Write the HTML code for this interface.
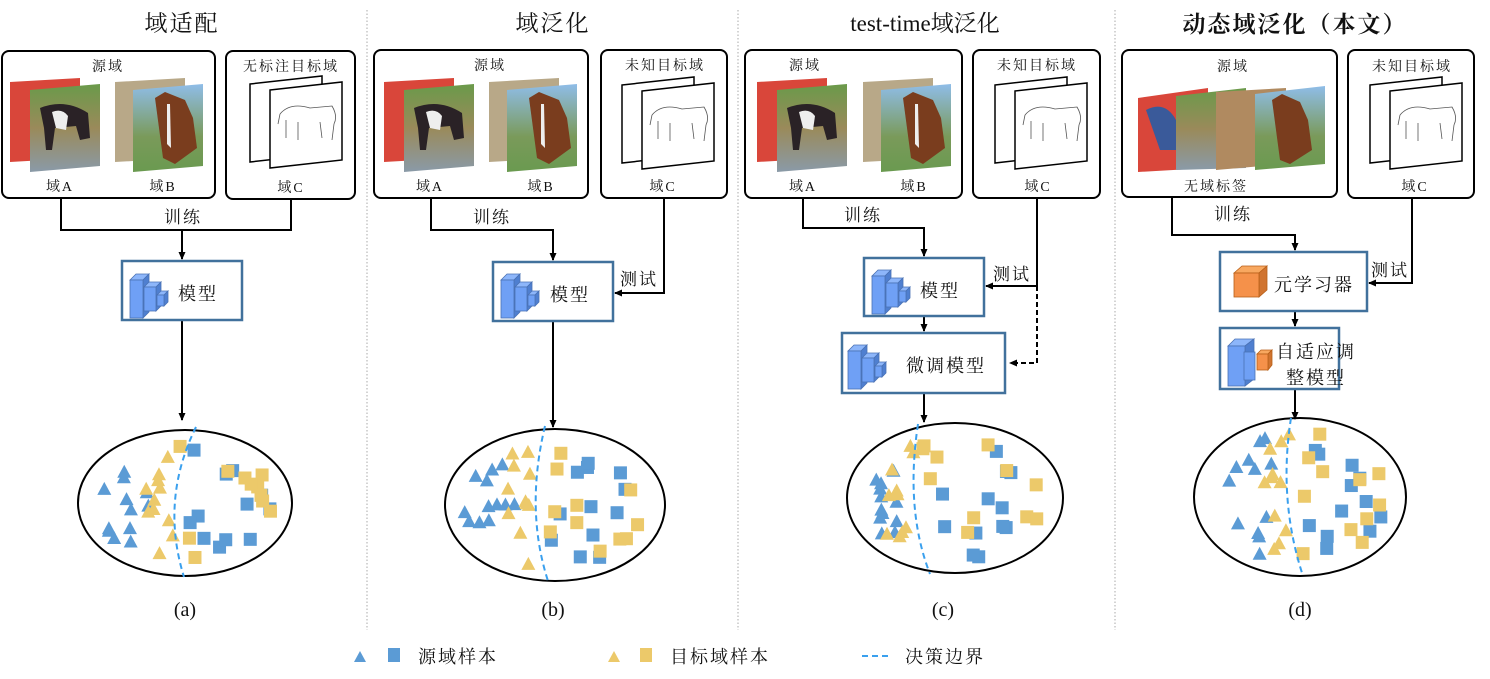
<!DOCTYPE html>
<html><head><meta charset="utf-8"><style>
html,body{margin:0;padding:0;background:#fff}
svg{display:block}
text{font-family:"Liberation Serif","Noto Serif CJK SC",serif;fill:#111}
.ls{letter-spacing:2px}
</style></head><body>
<svg id="s" width="1490" height="679" viewBox="0 0 1490 679" xmlns="http://www.w3.org/2000/svg">
<defs>
<marker id="ar" markerWidth="8" markerHeight="8" refX="7" refY="4" orient="auto" markerUnits="userSpaceOnUse"><path d="M0,0.5 L8,4 L0,7.5 Z" fill="#000"/></marker>
<linearGradient id="gA" x1="0" y1="0" x2="0" y2="1"><stop offset="0" stop-color="#6a9a4a"/><stop offset="0.5" stop-color="#9a8a5a"/><stop offset="1" stop-color="#8a9aa8"/></linearGradient>
<linearGradient id="gB" x1="0" y1="0" x2="0" y2="1"><stop offset="0" stop-color="#8fbde8"/><stop offset="0.6" stop-color="#7a9a5a"/><stop offset="1" stop-color="#6a9a50"/></linearGradient>
<g id="photoA">
<path d="M0,4 L70,0 L70,80 L0,84 Z" fill="#d9463a"/>
<path d="M20,12 L90,6 L90,88 L20,94 Z" fill="url(#gA)"/>
<path d="M30,30 Q55,20 78,35 L80,60 L70,62 L66,48 L45,50 L42,72 L36,72 L34,50 Z" fill="#2a2226"/>
<path d="M42,34 Q52,30 58,38 L56,52 L46,50 Z" fill="#eee"/>
</g>
<g id="photoB">
<path d="M0,4 L70,0 L70,80 L0,84 Z" fill="#b8a888"/>
<path d="M18,12 L88,6 L88,88 L18,94 Z" fill="url(#gB)"/>
<path d="M40,20 L50,14 L70,22 L78,40 L82,70 L60,86 L48,80 L44,50 Z" fill="#7a3d1e"/>
<path d="M52,26 L55,26 L56,70 L52,66 Z" fill="#eee"/>
</g>
<g id="sketch">
<path d="M0,8 L72,0 L72,78 L0,86 Z" fill="#fff" stroke="#000" stroke-width="1.5"/>
<path d="M20,14 L92,6 L92,84 L20,92 Z" fill="#fff" stroke="#000" stroke-width="1.5"/>
<path d="M30,38 Q40,26 60,32 L82,30 Q88,40 84,48 L82,64 M36,44 L36,62 M48,46 L48,64 M70,46 L72,62 M30,38 L28,48" fill="none" stroke="#555" stroke-width="0.8"/>
</g>
<g id="cubes" stroke="#4a72b5" stroke-width="0.8">
<path d="M0,12 L6,6 L19,6 L13,12 Z" fill="#8db6fa"/><path d="M13,12 L19,6 L19,44 L13,50 Z" fill="#4f7fd0"/><rect x="0" y="12" width="13" height="38" fill="#6fa0f5"/>
<path d="M14,19 L19,14 L31,14 L26,19 Z" fill="#8db6fa"/><path d="M26,19 L31,14 L31,38 L26,43 Z" fill="#4f7fd0"/><rect x="14" y="19" width="12" height="24" fill="#6fa0f5"/>
<path d="M27,27 L31,23 L38,23 L34,27 Z" fill="#8db6fa"/><path d="M34,27 L38,23 L38,34 L34,38 Z" fill="#4f7fd0"/><rect x="27" y="27" width="7" height="11" fill="#6fa0f5"/>
</g>
</defs>

<g stroke="#aaa" stroke-width="1" stroke-dasharray="1.5,2">
<line x1="367" y1="10" x2="367" y2="630"/><line x1="738" y1="10" x2="738" y2="630"/><line x1="1115" y1="10" x2="1115" y2="630"/>
</g>

<g fill="none" stroke="#000" stroke-width="2">
<rect x="2" y="51" width="213" height="147" rx="7"/>
<rect x="226" y="51" width="129" height="148" rx="7"/>
<rect x="374" y="50" width="214" height="148" rx="7"/>
<rect x="601" y="50" width="126" height="148" rx="7"/>
<rect x="745" y="50" width="217" height="148" rx="7"/>
<rect x="973" y="50" width="127" height="148" rx="7"/>
<rect x="1122" y="50" width="215" height="147" rx="7"/>
<rect x="1348" y="50" width="126" height="148" rx="7"/>
</g>

<use href="#photoA" x="10" y="78"/><use href="#photoB" x="115" y="78"/><use href="#sketch" x="250" y="76"/>
<use href="#photoA" x="384" y="78"/><use href="#photoB" x="489" y="78"/><use href="#sketch" x="622" y="77"/>
<use href="#photoA" x="757" y="78"/><use href="#photoB" x="863" y="78"/><use href="#sketch" x="995" y="77"/>
<g>
<path d="M1138,98 L1208,88 L1208,168 L1138,172 Z" fill="#d9463a"/>
<path d="M1176,96 L1246,88 L1246,168 L1176,170 Z" fill="url(#gA)"/>
<path d="M1216,92 L1286,88 L1286,164 L1216,170 Z" fill="#b08a60"/>
<path d="M1255,94 L1325,86 L1325,164 L1255,170 Z" fill="url(#gB)"/>
<path d="M1272,100 L1282,94 L1300,102 L1308,120 L1312,150 L1290,164 L1280,160 L1276,130 Z" fill="#7a3d1e"/>
<path d="M1146,110 Q1165,100 1176,120 L1176,150 L1160,150 Z" fill="#3a5a9a"/>
</g>
<use href="#sketch" x="1370" y="77"/>

<text x="182" y="31" font-size="23" text-anchor="middle" class="ls">域适配</text>
<text x="553" y="31" font-size="23" text-anchor="middle" class="ls">域泛化</text>
<text x="925" y="31" font-size="23" text-anchor="middle">test-time域泛化</text>
<text x="1295" y="32" font-size="23" text-anchor="middle" font-weight="bold" class="ls">动态域泛化（本文）</text>

<g font-size="14" text-anchor="middle" class="ls">
<text x="108" y="71">源域</text><text x="291" y="71">无标注目标域</text>
<text x="60" y="191">域A</text><text x="163" y="191">域B</text><text x="291" y="192">域C</text>
<text x="490" y="70">源域</text><text x="665" y="70">未知目标域</text>
<text x="430" y="191">域A</text><text x="541" y="191">域B</text><text x="663" y="191">域C</text>
<text x="805" y="70">源域</text><text x="1037" y="70">未知目标域</text>
<text x="803" y="191">域A</text><text x="914" y="191">域B</text><text x="1038" y="191">域C</text>
<text x="1233" y="71">源域</text><text x="1412" y="71">未知目标域</text>
<text x="1216" y="191">无域标签</text><text x="1415" y="191">域C</text>
</g>

<g fill="none" stroke="#000" stroke-width="2">
<path d="M61,198 V230 H291 V199"/><path d="M182,230 V259" marker-end="url(#ar)"/>
<path d="M182,320 V420" marker-end="url(#ar)"/>
<path d="M431,198 V230 H553 V260" marker-end="url(#ar)"/>
<path d="M664,198 V293 H615" marker-end="url(#ar)"/>
<path d="M553,321 V427" marker-end="url(#ar)"/>
<path d="M803,198 V228 H924 V256" marker-end="url(#ar)"/>
<path d="M1037,198 V286 H986" marker-end="url(#ar)"/>
<path d="M1037,286 V363 H1010" stroke-dasharray="5,3" marker-end="url(#ar)"/>
<path d="M924,316 V331" marker-end="url(#ar)"/>
<path d="M924,393 V422" marker-end="url(#ar)"/>
<path d="M1172,197 V235 H1295 V250" marker-end="url(#ar)"/>
<path d="M1412,198 V283 H1369" marker-end="url(#ar)"/>
<path d="M1295,311 V326" marker-end="url(#ar)"/>
<path d="M1295,389 V419" marker-end="url(#ar)"/>
</g>
<g font-size="17" text-anchor="middle" class="ls">
<text x="183" y="223">训练</text><text x="492" y="223">训练</text><text x="639" y="285">测试</text>
<text x="863" y="221">训练</text><text x="1012" y="280">测试</text>
<text x="1233" y="220">训练</text><text x="1390" y="276">测试</text>
</g>

<g fill="#fff" stroke="#41719c" stroke-width="2.5">
<rect x="122" y="261" width="120" height="59"/>
<rect x="493" y="262" width="120" height="59"/>
<rect x="864" y="258" width="120" height="58"/>
<rect x="842" y="333" width="163" height="60"/>
<rect x="1220" y="252" width="147" height="59"/>
<rect x="1220" y="328" width="119" height="61"/>
</g>
<use href="#cubes" x="130" y="268"/><use href="#cubes" x="501" y="268"/><use href="#cubes" x="872" y="264"/><use href="#cubes" x="848" y="339"/>
<g stroke="#b85f18" stroke-width="0.8">
<path d="M1234,273 L1242,266 L1267,266 L1259,273 Z" fill="#f8a860"/><path d="M1259,273 L1267,266 L1267,290 L1259,297 Z" fill="#d07430"/><rect x="1234" y="273" width="25" height="24" fill="#f5914a"/>
</g>
<g stroke="#4a72b5" stroke-width="0.8">
<path d="M1228,346 L1235,339 L1254,339 L1245,346 Z" fill="#8db6fa"/><path d="M1245,346 L1254,339 L1254,379 L1245,386 Z" fill="#4f7fd0"/><rect x="1228" y="346" width="17" height="40" fill="#6fa0f5"/>
<rect x="1244" y="352" width="11" height="28" fill="#6fa0f5"/>
</g>
<g stroke="#b85f18" stroke-width="0.8"><path d="M1257,354 L1261,350 L1272,350 L1268,354 Z" fill="#f8a860"/><path d="M1268,354 L1272,350 L1272,365 L1268,370 Z" fill="#d07430"/><rect x="1257" y="354" width="11" height="16" fill="#f5914a"/></g>
<g font-size="18" class="ls">
<text x="178" y="300">模型</text><text x="550" y="301">模型</text><text x="920" y="297">模型</text>
<text x="906" y="372">微调模型</text><text x="1274" y="291">元学习器</text>
<text x="1276" y="358">自适应调</text><text x="1286" y="384">整模型</text>
</g>

<g fill="none" stroke="#000" stroke-width="2">
<ellipse cx="185" cy="503" rx="107" ry="73"/>
<ellipse cx="555" cy="505" rx="110" ry="76"/>
<ellipse cx="955" cy="498" rx="108" ry="75"/>
<ellipse cx="1300" cy="497" rx="106" ry="79"/>
</g>
<g id="pts"></g>
<g fill="none" stroke="#3aa0ee" stroke-width="2" stroke-dasharray="6,4">
<path d="M196,427 Q160,500 184,577"/>
<path d="M545,426 Q525,510 548,581"/>
<path d="M918,424 Q905,510 930,574"/>
<path d="M1291,418 Q1278,500 1303,576"/>
<line x1="862" y1="656" x2="892" y2="656"/>
</g>

<g font-size="20" text-anchor="middle" font-family="Liberation Serif,serif">
<text x="185" y="616">(a)</text><text x="553" y="616">(b)</text><text x="943" y="616">(c)</text><text x="1300" y="616">(d)</text>
</g>
<path d="M354,662 L360,651 L366,662 Z" fill="#5b9bd5"/><rect x="388" y="648" width="12" height="14" fill="#5b9bd5"/>
<path d="M608,662 L614,651 L620,662 Z" fill="#ecc96a"/><rect x="640" y="648" width="12" height="14" fill="#ecc96a"/>
<g font-size="18" class="ls"><text x="418" y="663">源域样本</text><text x="670" y="663">目标域样本</text><text x="905" y="663">决策边界</text></g>
</svg>
<script>
(function(){
var g=document.getElementById('pts'),h='';
var seed=11;function r(){seed=(seed*16807)%2147483647;return seed/2147483647;}
var P=[[185,503,107,73,-10],[555,505,110,76,-20],[955,498,108,75,-38],[1300,497,106,79,-8]];
function tri(x,y,c){h+='<path d="M'+(x-7)+','+(y+6)+' L'+x+','+(y-7)+' L'+(x+7)+','+(y+6)+' Z" fill="'+c+'"/>';}
function sq(x,y,c){h+='<rect x="'+(x-6.5)+'" y="'+(y-6.5)+'" width="13" height="13" fill="'+c+'"/>';}
var B='#5b9bd5',Y='#ecc96a';
P.forEach(function(p){
 var cx=p[0],cy=p[1],rx=p[2]-18,ry=p[3]-14,bx=cx+p[4];
 function pt(minx,maxx){for(var i=0;i<80;i++){var x=minx+r()*(maxx-minx),y=cy-ry+r()*2*ry;var dx=(x-cx)/rx,dy=(y-cy)/ry;if(dx*dx+dy*dy<1)return [x,y];}return [minx,cy];}
 var i,q;
 for(i=0;i<12;i++){q=pt(cx-rx,bx-20);tri(q[0],q[1],B);}
 for(i=0;i<12;i++){q=pt(bx+15,cx+rx);sq(q[0],q[1],B);}
 for(i=0;i<11;i++){q=pt(bx-32,bx-2);tri(q[0],q[1],Y);}
 for(i=0;i<11;i++){q=pt(bx+5,cx+rx);sq(q[0],q[1],Y);}
});
g.innerHTML=h;
})();
</script>
</body></html>
